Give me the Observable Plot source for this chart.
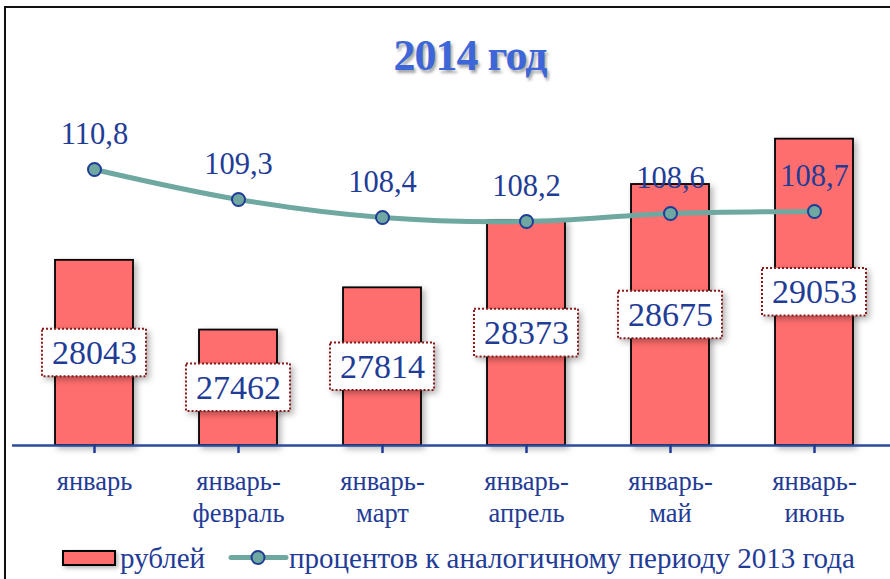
<!DOCTYPE html>
<html>
<head>
<meta charset="utf-8">
<script src="https://cdn.jsdelivr.net/npm/d3@7"></script>
<script src="https://cdn.jsdelivr.net/npm/@observablehq/plot@0.6"></script>
<style>
  html, body { margin: 0; padding: 0; background: #fff; overflow: hidden; }
  #wrap { position: relative; width: 890px; height: 579px; overflow: hidden; font-family: "Liberation Serif", "Times New Roman", serif; }
  #frame { position: absolute; left: 4px; top: 6px; width: 1000px; height: 1000px; border: 2px solid #111; box-shadow: 2px 2px 3px rgba(0,0,0,0.35); }
  #chart { position: absolute; left: 0; top: 0; }
  #title { position: absolute; left: 0; width: 940px; top: 30px; text-align: center; font-size: 44px; font-weight: bold; color: #3d66d8; letter-spacing: -1px; text-shadow: 2px 3px 3px rgba(0,0,0,0.35); }
  #legend { position: absolute; left: 0; top: 540px; width: 890px; height: 36px; }
  #legend .t { position: absolute; top: 0; font-size: 29px; color: #1f3c96; line-height: 36px; white-space: nowrap; }
  g[aria-label="bar"] rect { filter: drop-shadow(3px 3px 3px rgba(0,0,0,0.3)); }
</style>
</head>
<body>
<div id="wrap">
  <div id="frame"></div>
  <div id="chart"></div>
  <div id="title">2014 год</div>
  <div id="legend">
    <svg style="position:absolute;left:0;top:0" width="300" height="36">
      <rect x="63" y="11" width="52" height="14" fill="#ff6e6e" stroke="#000" stroke-width="2" style="filter: drop-shadow(2px 2px 2px rgba(0,0,0,0.3))"></rect>
      <line x1="231" x2="286" y1="17.5" y2="17.5" stroke="#6fa8a1" stroke-width="5" stroke-linecap="round"></line>
      <circle cx="258" cy="17.5" r="6.5" fill="#6fa8a1" stroke="#1f3c96" stroke-width="2"></circle>
    </svg>
    <div class="t" style="left:120px">рублей</div>
    <div class="t" style="left:289px">процентов к аналогичному периоду 2013 года</div>
  </div>
</div>
<script>
const categories = ["январь", "январь-\nфевраль", "январь-\nмарт", "январь-\nапрель", "январь-\nмай", "январь-\nиюнь"];
const rubles = [28043, 27462, 27814, 28373, 28675, 29053];
const percents = [110.8, 109.3, 108.4, 108.2, 108.6, 108.7];
const rubAxis = [26500, 29500];
const pctAxis = [97, 115];

const blue = "#1f3c96";
const teal = "#6fa8a1";
const red = "#ff6e6e";
const serif = "Liberation Serif, Times New Roman, serif";

const data = categories.map((c, i) => ({ cat: c, rub: rubles[i], pct: percents[i] }));
const pct2y = d3.scaleLinear(pctAxis, rubAxis);
const base = rubAxis[0];
const boxHalf = 198; // half height of value label box, in ruble units

const chart = Plot.plot({
  width: 890,
  height: 579,
  marginTop: 85,
  marginBottom: 134,
  marginLeft: 21,
  marginRight: 4,
  style: { fontFamily: serif, background: "transparent", overflow: "visible" },
  x: { type: "band", domain: categories, paddingInner: 0.46, paddingOuter: 0.23, label: null },
  y: { domain: rubAxis, axis: null },
  marks: [
    Plot.barY(data, { x: "cat", y1: base, y2: "rub", fill: red, stroke: "#000", strokeWidth: 1.8 }),
    Plot.ruleY([base], { stroke: "#2a4a9c", strokeWidth: 2.5, insetLeft: -9, insetRight: -4 }),
    Plot.axisX({ tickSize: 8, tickPadding: 14, color: blue, strokeWidth: 2.5, fontSize: 26.5, fontFamily: serif, lineHeight: 1.2, label: null }),
    Plot.barY(data, { x: "cat", y1: d => (d.rub + base) / 2 - boxHalf, y2: d => (d.rub + base) / 2 + boxHalf,
      fill: "#fff", stroke: "#8b1a1a", strokeWidth: 2, strokeDasharray: "2,2", insetLeft: -13, insetRight: -13 }),
    Plot.text(data, { x: "cat", y: d => (d.rub + base) / 2, text: d => String(d.rub), fontSize: 34, fontFamily: serif, fill: blue }),
    Plot.line(data, { x: "cat", y: d => pct2y(d.pct), stroke: teal, strokeWidth: 5, curve: "catmull-rom" }),
    Plot.dot(data, { x: "cat", y: d => pct2y(d.pct), r: 6.5, fill: teal, stroke: blue, strokeWidth: 2 }),
    Plot.text(data, { x: "cat", y: d => pct2y(d.pct), text: d => d.pct.toFixed(1).replace(".", ","), dy: -35, fontSize: 30.5, fontFamily: serif, fill: blue })
  ]
});
document.getElementById("chart").appendChild(chart);
</script>
</body>
</html>
